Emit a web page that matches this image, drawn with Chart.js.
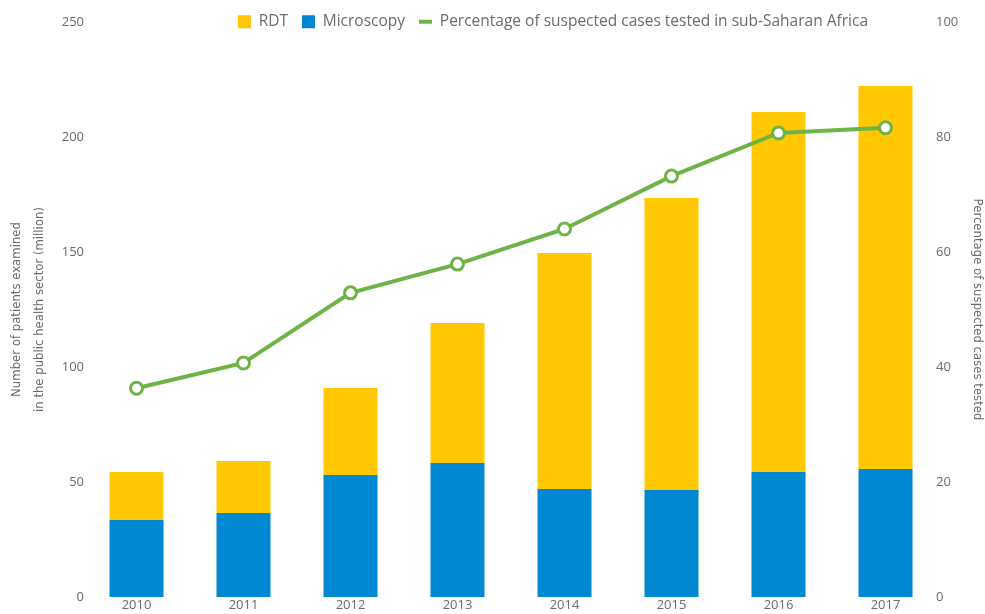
<!DOCTYPE html>
<html>
<head>
<meta charset="utf-8">
<script src="https://cdn.jsdelivr.net/npm/chart.js@4/dist/chart.umd.min.js"></script>
<style>
  html, body { margin: 0; padding: 0; background: #fff; }
  #wrap { width: 985px; height: 614px; position: relative; }
</style>
</head>
<body>
<div id="wrap"><canvas id="testedChart"></canvas></div>
<script>
var years = ["2010", "2011", "2012", "2013", "2014", "2015", "2016", "2017"];
var microscopy = [33.5, 36.5, 53, 58.3, 47, 46.5, 54.3, 55.7];
var rdt = [20.8, 22.6, 37.9, 60.8, 102.6, 127.0, 156.6, 166.5];
var pctTested = [36.3, 40.7, 52.9, 57.9, 64.0, 73.2, 80.7, 81.6];

var legendOrder = ["RDT", "Microscopy", "Percentage of suspected cases tested in sub-Saharan Africa"];

var YELLOW = "#ffc800";
var BLUE = "#0089d2";
var GREEN = "#6db345";
var TEXT = "#6b6b6b";
var TICK_FONT = { family: "'Open Sans', sans-serif", size: 13 };
var TITLE_FAMILY = "'DejaVu Sans Condensed', 'Liberation Sans Narrow', 'Liberation Sans', sans-serif";

// squeeze the legend into the top strip and push it left of the right axis
var legendFit = {
    id: 'legendFit',
    afterInit: function (chart) {
        var legend = chart.legend;
        var fit = legend.fit;
        legend.fit = function () {
            fit.call(this);
            this.height = 22;
        };
        legend.draw = function () {
            if (this.options.display) this._draw(); // no clipping
        };
    },
    afterLayout: function (chart) {
        chart.legend.right = 882;
    }
};

new Chart(document.getElementById("testedChart"), {
    data: {
        labels: years,
        datasets: [{
            type: 'line',
            label: legendOrder[2],
            data: pctTested,
            yAxisID: 'yRight',
            borderColor: GREEN,
            backgroundColor: GREEN,
            borderWidth: 4,
            pointRadius: 6,
            pointBorderWidth: 3,
            pointBackgroundColor: "#fff",
            pointBorderColor: GREEN,
            tension: 0,
            order: 0
        }, {
            type: 'bar',
            label: legendOrder[1],
            data: microscopy,
            yAxisID: 'yLeft',
            backgroundColor: BLUE,
            stack: 'tests',
            order: 1
        }, {
            type: 'bar',
            label: legendOrder[0],
            data: rdt,
            yAxisID: 'yLeft',
            backgroundColor: YELLOW,
            stack: 'tests',
            order: 1
        }]
    },
    options: {
        responsive: true,
        maintainAspectRatio: false,
        animation: false,
        layout: { padding: 0 },
        datasets: {
            bar: { categoryPercentage: 1, barPercentage: 0.505 }
        },
        plugins: {
            tooltip: { enabled: false },
            legend: {
                position: 'top',
                align: 'end',
                labels: {
                    color: TEXT,
                    font: { family: "'Open Sans', sans-serif", size: 15.5 },
                    usePointStyle: true,
                    boxHeight: 13,
                    pointStyleWidth: 13,
                    padding: 14,
                    generateLabels: function (chart) {
                        var items = Chart.defaults.plugins.legend.labels.generateLabels(chart);
                        items.forEach(function (it) {
                            var ds = chart.data.datasets[it.datasetIndex];
                            if (ds.type === 'line') {
                                it.pointStyle = 'line';
                                it.strokeStyle = GREEN;
                                it.lineWidth = 4;
                            } else {
                                it.pointStyle = 'rect';
                                it.lineWidth = 0;
                            }
                        });
                        return items.sort(function (a, b) {
                            return legendOrder.indexOf(a.text) - legendOrder.indexOf(b.text);
                        });
                    }
                }
            }
        },
        scales: {
            x: {
                stacked: true,
                grid: { display: false, drawTicks: false },
                border: { display: false },
                ticks: { color: TEXT, font: TICK_FONT, padding: 0 },
                afterFit: function (scale) { scale.height = 17; }
            },
            yLeft: {
                position: 'left',
                stacked: true,
                min: 0,
                max: 250,
                grid: { display: false, drawTicks: false },
                border: { display: false },
                ticks: { stepSize: 50, color: TEXT, font: TICK_FONT, padding: -1 },
                title: {
                    display: true,
                    text: ["Number of patients examined", "in the public health sector (million)"],
                    color: TEXT,
                    font: { family: TITLE_FAMILY, size: 13, lineHeight: 1.7 },
                    padding: { top: 6, bottom: 0 }
                },
                afterFit: function (scale) {
                    scale.width = 83;
                    scale._computeLabelArea = function () {};
                }
            },
            yRight: {
                position: 'right',
                min: 0,
                max: 100,
                grid: { display: false, drawTicks: false },
                border: { display: false },
                ticks: { stepSize: 20, color: TEXT, font: TICK_FONT, padding: -3 },
                title: {
                    display: true,
                    text: "Percentage of suspected cases tested",
                    color: TEXT,
                    font: { family: TITLE_FAMILY, size: 13 },
                    padding: { top: 0, bottom: 0 }
                },
                afterFit: function (scale) {
                    scale.width = 46;
                    scale._computeLabelArea = function () {}; // let labels overlap the plot edge
                }
            }
        }
    },
    plugins: [legendFit]
});
</script>
</body>
</html>
